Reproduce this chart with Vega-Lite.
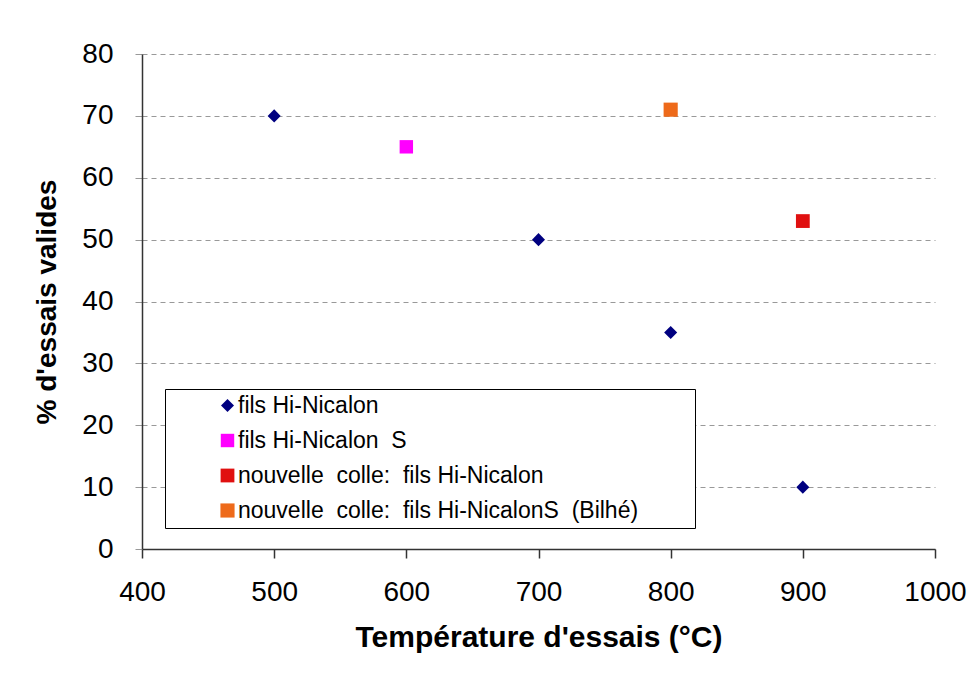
{
  "$schema": "https://vega.github.io/schema/vega-lite/v6.json",
  "width": 793,
  "height": 495,
  "autosize": {"type": "none"},
  "padding": {"left": 142, "top": 54, "right": 41, "bottom": 128},
  "background": "white",
  "config": {"view": {"stroke": null}, "font": "Liberation Sans"},
  "data": {
    "values": [
      {"temp": 500, "pct": 70, "serie": "fils Hi-Nicalon"},
      {"temp": 700, "pct": 50, "serie": "fils Hi-Nicalon"},
      {"temp": 800, "pct": 35, "serie": "fils Hi-Nicalon"},
      {"temp": 900, "pct": 10, "serie": "fils Hi-Nicalon"},
      {"temp": 600, "pct": 65, "serie": "fils Hi-Nicalon\u00a0 S"},
      {"temp": 900, "pct": 53, "serie": "nouvelle\u00a0 colle:\u00a0 fils Hi-Nicalon"},
      {"temp": 800, "pct": 71, "serie": "nouvelle\u00a0 colle:\u00a0 fils Hi-NicalonS\u00a0 (Bilhé)"}
    ]
  },
  "mark": {"type": "point", "filled": true, "opacity": 1, "strokeWidth": 0},
  "encoding": {
    "x": {
      "field": "temp",
      "type": "quantitative",
      "scale": {"domain": [400, 1000], "nice": false, "zero": false},
      "axis": {
        "values": [400, 500, 600, 700, 800, 900, 1000],
        "format": "d",
        "labelFlush": false,
        "labelOverlap": false,
        "grid": false,
        "domainColor": "#333333",
        "domainWidth": 1.5,
        "tickColor": "#333333",
        "tickWidth": 1.5,
        "tickSize": 9,
        "labelFontSize": 28,
        "labelColor": "#000000",
        "labelPadding": 20,
        "title": "Température d'essais (°C)",
        "titleFontSize": 30,
        "titleFontWeight": "bold",
        "titleColor": "#000000",
        "titlePadding": 16
      }
    },
    "y": {
      "field": "pct",
      "type": "quantitative",
      "scale": {"domain": [0, 80], "nice": false},
      "axis": {
        "values": [0, 10, 20, 30, 40, 50, 60, 70, 80],
        "labelOverlap": false,
        "grid": true,
        "gridDash": [5, 4],
        "gridColor": "#999999",
        "gridWidth": 1,
        "domainColor": "#333333",
        "domainWidth": 1.5,
        "tickColor": "#999999",
        "tickWidth": 1,
        "tickSize": 7,
        "labelFontSize": 28,
        "labelColor": "#000000",
        "labelPadding": 22,
        "title": "% d'essais valides",
        "titleFontSize": 28,
        "titleFontWeight": "bold",
        "titleColor": "#000000",
        "titlePadding": 20
      }
    },
    "color": {
      "field": "serie",
      "type": "nominal",
      "sort": null,
      "scale": {
        "domain": ["fils Hi-Nicalon", "fils Hi-Nicalon\u00a0 S", "nouvelle\u00a0 colle:\u00a0 fils Hi-Nicalon", "nouvelle\u00a0 colle:\u00a0 fils Hi-NicalonS\u00a0 (Bilhé)"],
        "range": ["#000080", "#FF00FF", "#E01010", "#EE6A1A"]
      },
      "legend": {
        "title": null,
        "orient": "none",
        "legendX": 23,
        "legendY": 335,
        "strokeColor": "#000000",
        "fillColor": "#ffffff",
        "padding": 5,
        "symbolSize": 120,
        "symbolOffset": 46,
        "labelOffset": -1,
        "labelLimit": 0,
        "labelExpr": "datum.label + '\u00a0\u00a0\u00a0\u00a0\u00a0\u00a0\u00a0\u00a0\u200b'",
        "labelFontSize": 23,
        "labelColor": "#000000",
        "rowPadding": 11
      }
    },
    "shape": {
      "field": "serie",
      "type": "nominal",
      "sort": null,
      "scale": {
        "domain": ["fils Hi-Nicalon", "fils Hi-Nicalon\u00a0 S", "nouvelle\u00a0 colle:\u00a0 fils Hi-Nicalon", "nouvelle\u00a0 colle:\u00a0 fils Hi-NicalonS\u00a0 (Bilhé)"],
        "range": ["diamond", "square", "square", "square"]
      },
      "legend": {
        "title": null,
        "orient": "none",
        "legendX": 23,
        "legendY": 335,
        "strokeColor": "#000000",
        "fillColor": "#ffffff",
        "padding": 5,
        "symbolSize": 120,
        "symbolOffset": 46,
        "labelOffset": -1,
        "labelLimit": 0,
        "labelExpr": "datum.label + '\u00a0\u00a0\u00a0\u00a0\u00a0\u00a0\u00a0\u00a0\u200b'",
        "labelFontSize": 23,
        "labelColor": "#000000",
        "rowPadding": 11
      }
    },
    "size": {
      "field": "serie",
      "type": "nominal",
      "sort": null,
      "scale": {
        "domain": ["fils Hi-Nicalon", "fils Hi-Nicalon\u00a0 S", "nouvelle\u00a0 colle:\u00a0 fils Hi-Nicalon", "nouvelle\u00a0 colle:\u00a0 fils Hi-NicalonS\u00a0 (Bilhé)"],
        "range": [170, 200, 170, 200]
      },
      "legend": null
    }
  }
}
